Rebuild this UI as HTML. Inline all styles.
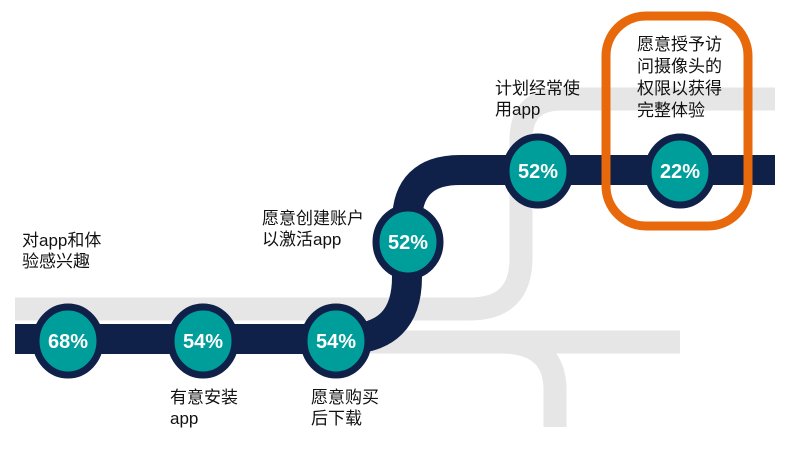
<!DOCTYPE html>
<html><head><meta charset="utf-8"><style>
body{margin:0;width:791px;height:450px;background:#fff;overflow:hidden;position:relative;font-family:"Liberation Sans","Noto Sans CJK SC",sans-serif}
.t{position:absolute;font-size:17px;line-height:21px;color:#111}
</style></head><body>
<svg width="791" height="450" style="position:absolute;left:0;top:0">
<g fill="none" stroke="#e6e6e6" stroke-width="23">
<path d="M15 309 H470 Q521 309 521 258 V140 Q521 99 562 99 H775"/>
<path d="M370 342 H680"/>
<path d="M500 342 Q555 342 555 390 V427"/>
</g>
<path d="M15 339 H345 Q407 339 407 277 V222 Q407 170 460 170 H775" fill="none" stroke="#0f2149" stroke-width="30"/>
<rect x="606" y="16" width="142" height="210" rx="40" fill="none" stroke="#e8690c" stroke-width="9"/>
<g fill="#009e9a" stroke="#0f2149" stroke-width="7">
<ellipse cx="68" cy="341" rx="32" ry="34"/>
<ellipse cx="203" cy="341" rx="32" ry="34"/>
<ellipse cx="336" cy="341" rx="32" ry="34"/>
<ellipse cx="408" cy="242" rx="32" ry="34"/>
<ellipse cx="538" cy="171" rx="32" ry="34"/>
<ellipse cx="680" cy="171" rx="32" ry="34"/>
</g>
<g fill="#fff" font-family="Liberation Sans,sans-serif" font-weight="bold" font-size="20" text-anchor="middle">
<text x="68" y="348">68%</text>
<text x="203" y="348">54%</text>
<text x="336" y="348">54%</text>
<text x="408" y="249">52%</text>
<text x="538" y="178">52%</text>
<text x="680" y="178">22%</text>
</g>
</svg>
<div class="t" style="left:22px;top:230px">对app和体<br>验感兴趣</div>
<div class="t" style="left:170px;top:387px">有意安装<br>app</div>
<div class="t" style="left:311px;top:387px">愿意购买<br>后下载</div>
<div class="t" style="left:262px;top:208px">愿意创建账户<br>以激活app</div>
<div class="t" style="left:495px;top:78px">计划经常使<br>用app</div>
<div class="t" style="left:637px;top:34px;line-height:22px">愿意授予访<br>问摄像头的<br>权限以获得<br>完整体验</div>
</body></html>
